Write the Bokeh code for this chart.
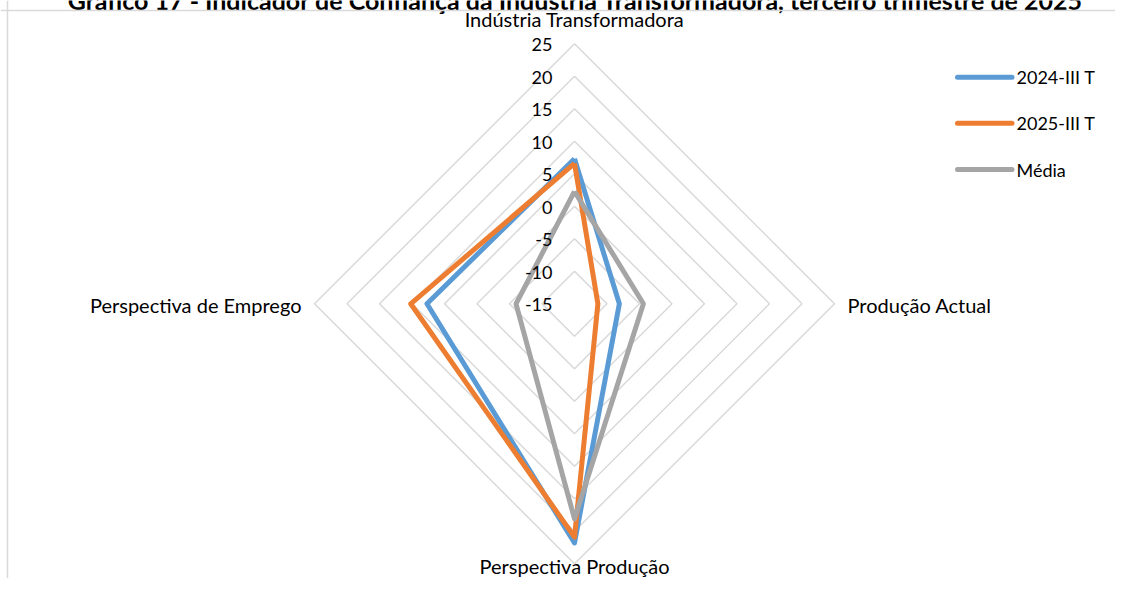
from bokeh.plotting import figure
from bokeh.models import Range1d, Span
from bokeh.core.properties import value
from bokeh.embed import file_html
from bokeh.resources import INLINE
import math

# ---- data ----
title_text = "Gráfico 17 - Indicador de Confiança da Indústria Transformadora, terceiro trimestre de 2025"
categories = ["Indústria Transformadora", "Produção Actual", "Perspectiva Produção", "Perspectiva de Emprego"]
series_names = ["2024-III T", "2025-III T", "Média"]
s2024 = [7.3, -8.1, 21.8, 7.7]
s2025 = [6.6, -11.4, 20.9, 10.2]
media = [2.3, -4.4, 18.1, -6.0]
tick_values = [-15, -10, -5, 0, 5, 10, 15, 20, 25]
colors = ["#5B9BD5", "#ED7D31", "#A5A5A5"]

# ---- layout ----
W, H = 1115, 578
PX = 6.5            # pixels per value unit
CX, CY = 574.0, 303.3
RMIN = tick_values[0]
FONT = value("Lato")

p = figure(width=W, height=H, output_backend="svg", toolbar_location=None,
           x_range=Range1d(-CX / PX, (W - CX) / PX),
           y_range=Range1d(-(H - CY) / PX, CY / PX),
           min_border=0, outline_line_color=None)
p.axis.visible = False
p.grid.visible = False
p.background_fill_color = "white"
p.border_fill_color = "white"

def scr(xp, yp):
    return (xp - CX) / PX, (CY - yp) / PX

# angles: top, right, bottom, left (clockwise)
angles = [math.pi / 2 - i * 2 * math.pi / len(categories) for i in range(len(categories))]

def polar(vals):
    xs = [(v - RMIN) * math.cos(a) for v, a in zip(vals, angles)]
    ys = [(v - RMIN) * math.sin(a) for v, a in zip(vals, angles)]
    return xs + xs[:1], ys + ys[:1]

# border of chart area (partially visible)
lx, ty = scr(7.0, 10.0)
p.add_layout(Span(location=lx, dimension="height", line_color="#d9d9d9", line_width=1.5))
p.add_layout(Span(location=ty, dimension="width", line_color="#d9d9d9", line_width=1.5))

# rings
for t in tick_values[1:]:
    xs, ys = polar([t] * len(categories))
    p.line(xs, ys, line_color="#d9d9d9", line_width=1.5)

# series
for vals, c in zip([s2024, s2025, media], colors):
    xs, ys = polar(vals)
    p.line(xs, ys, line_color=c, line_width=5, line_join="round")

# tick labels
p.text(x=[0] * len(tick_values), y=[t - RMIN for t in tick_values],
       text=[str(t) for t in tick_values], text_align="right", text_baseline="middle",
       x_offset=-22, y_offset=1, text_font=FONT, text_font_size="18px", text_color="#000000")

# category labels
rmax = tick_values[-1] - RMIN
aligns = ["center", "left", "center", "right"]
baselines = ["middle", "middle", "bottom", "middle"]
offs = [(0, -25), (13, 1), (0, 14.5), (-13, 1)]
for cat, a, al, bl, (dx, dy) in zip(categories, angles, aligns, baselines, offs):
    p.text(x=[rmax * math.cos(a)], y=[rmax * math.sin(a)], text=[cat],
           text_align=al, text_baseline=bl, x_offset=dx, y_offset=dy,
           text_font=FONT, text_font_size="20px", text_color="#000000")

# title (cut off at the top as in the source image)
tx, tyy = scr(575, 0)
p.text(x=[tx], y=[tyy], text=[title_text], text_align="center", text_baseline="alphabetic",
       y_offset=-1, text_font=FONT, text_font_size="25px", text_font_style="bold",
       text_color="#000000")

# legend
leg_y = [76.7, 122.7, 169.0]
for name, c, yy in zip(series_names, colors, leg_y):
    x0, y0 = scr(957, yy)
    x1, _ = scr(1011.5, yy)
    p.line([x0, x1], [y0, y0], line_color=c, line_width=5, line_cap="round")
    xt, _ = scr(1016, yy)
    p.text(x=[xt], y=[y0], text=[name], text_align="left", text_baseline="middle",
           text_font=FONT, text_font_size="18px", text_color="#000000")

open("out.html", "w").write(file_html(p, INLINE))
